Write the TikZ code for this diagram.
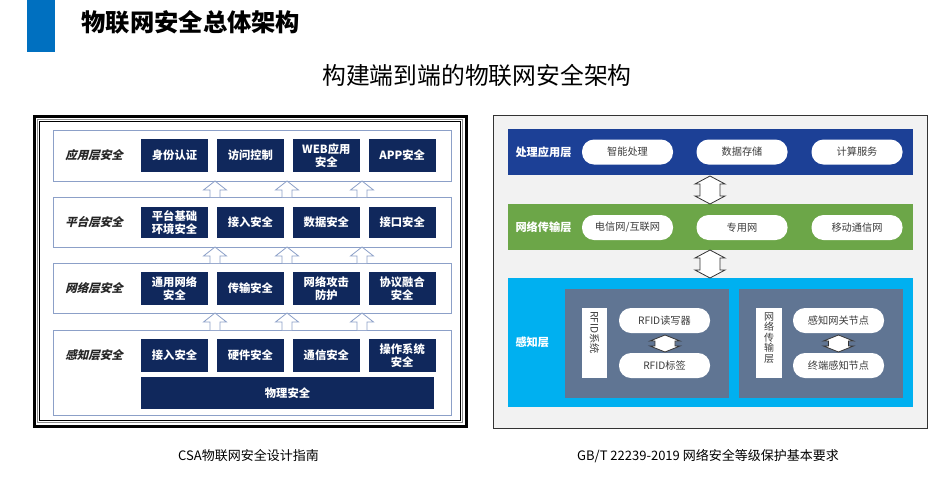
\documentclass[tikz,border=0pt]{standalone}
\usepackage{fontspec}
\setmainfont{Noto Sans CJK SC}
\newfontfamily\slantcjk{Noto Sans CJK SC}[FakeSlant=0.25,BoldFeatures={FakeSlant=0.25}]
\usetikzlibrary{positioning}
\definecolor{barblue}{RGB}{0,112,192}
\definecolor{navy}{RGB}{16,40,92}
\definecolor{laybd}{RGB}{140,160,200}
\definecolor{bandblue}{RGB}{28,64,150}
\definecolor{bandgreen}{RGB}{108,166,72}
\definecolor{bandcyan}{RGB}{0,176,240}
\definecolor{slate}{RGB}{96,117,147}
\definecolor{pilltxt}{RGB}{60,60,60}
\definecolor{panel}{RGB}{242,242,242}

\begin{document}
\begin{tikzpicture}[x=1pt, y=-1pt,
  dbox/.style={fill=navy, text=white, align=center, inner sep=0pt,
    minimum width=67, minimum height=33, font=\fontsize{11.3}{12.5}\selectfont\bfseries},
  layer/.style={draw=laybd, line width=0.8pt, fill=white, minimum width=398, inner sep=0pt},
  lname/.style={font=\slantcjk\fontsize{11.5}{13}\selectfont\bfseries, text=black!85},
  uparr/.style={draw=laybd, line width=0.8pt, fill=white},
  band/.style={minimum width=405, inner sep=0pt},
  bname/.style={anchor=west, text=white, font=\fontsize{11.2}{13}\selectfont\bfseries},
  pill/.style={fill=white, rounded corners=12pt, minimum width=91, minimum height=25,
    inner sep=0pt, text=pilltxt, font=\fontsize{10.2}{12}\selectfont},
  dblarr/.style={draw=black!80, line width=0.8pt, fill=white}]
\useasboundingbox (0,0) rectangle (945,496);

% title
\fill[barblue] (27,0) rectangle (55,52);
\node[anchor=west, font=\fontsize{24.3}{27}\selectfont\bfseries] (ttl) at (78,22) {物联网安全总体架构};
\node[font=\fontsize{23.8}{26}\selectfont] (sub) at (477,75) {构建端到端的物联网安全架构};

% CSA
\draw[line width=3pt] (34,116) rectangle (466,426);
\draw[black!45, line width=1.5pt] (37.5,119.5) rectangle (462.5,422.5);
\draw[line width=1pt, fill=white] (39.5,121.5) rectangle (460.5,420.5);

\node[layer, minimum height=51] (L1) at (252,155.5) {};
\node[layer, minimum height=50] (L2) at (252,222) {};
\node[layer, minimum height=50] (L3) at (252,288) {};
\node[layer, minimum height=85] (L4) at (252,372.5) {};

\foreach \t/\b in {181/197, 247/263, 313/330}
  \foreach \x in {215,287,362}
    \draw[uparr] (\x-5,\b) -- (\x-5,\t+9) -- (\x-11.5,\t+9) -- (\x,\t)
      -- (\x+11.5,\t+9) -- (\x+5,\t+9) -- (\x+5,\b);

\node[lname] (n1) at (94,155.5) {应用层安全};
\node[lname] (n2) at (94,222.5) {平台层安全};
\node[lname] (n3) at (94,288.5) {网络层安全};
\node[lname] (n4) at (94,355.5) {感知层安全};

\node[dbox] (a1) at (174.5,155.5) {身份认证};
\node[dbox, right=8.5pt of a1] (a2) {访问控制};
\node[dbox, right=8.5pt of a2] (a3) {WEB应用\\安全};
\node[dbox, right=8.5pt of a3] (a4) {APP安全};

\node[dbox, minimum height=31] (b1) at (174.5,222.5) {平台基础\\环境安全};
\node[dbox, minimum height=31, right=8.5pt of b1] (b2) {接入安全};
\node[dbox, minimum height=31, right=8.5pt of b2] (b3) {数据安全};
\node[dbox, minimum height=31, right=8.5pt of b3] (b4) {接口安全};

\node[dbox] (c1) at (174.5,288.5) {通用网络\\安全};
\node[dbox, right=8.5pt of c1] (c2) {传输安全};
\node[dbox, right=8.5pt of c2] (c3) {网络攻击\\防护};
\node[dbox, right=8.5pt of c3] (c4) {协议融合\\安全};

\node[dbox] (d1) at (174.5,355.5) {接入安全};
\node[dbox, right=8.5pt of d1] (d2) {硬件安全};
\node[dbox, right=8.5pt of d2] (d3) {通信安全};
\node[dbox, right=8.5pt of d3] (d4) {操作系统\\安全};
\node[dbox, minimum width=293, minimum height=32] (d5) at (287.5,393) {物理安全};

% GB/T
\draw[black!80, line width=1pt, fill=panel] (493,115) rectangle (927,428);

\node[band, fill=bandblue, minimum height=46] (B1) at (710.5,152) {};
\node[band, fill=bandgreen, minimum height=46] (B2) at (710.5,227) {};
\node[band, fill=bandcyan, minimum height=129] (B3) at (710.5,342.5) {};

\node[bname] (m1) at (512,152) {处理应用层};
\node[bname] (m2) at (512,227) {网络传输层};
\node[bname] (m3) at (512,342) {感知层};

\node[pill] (p1) at (627.5,152) {智能处理};
\node[pill] (p2) at (742,152) {数据存储};
\node[pill] (p3) at (857,152) {计算服务};
\node[pill] (q1) at (627.5,227.5) {电信网/互联网};
\node[pill] (q2) at (742,227.5) {专用网};
\node[pill] (q3) at (857,227.5) {移动通信网};

\foreach \t/\b in {176/204, 250/278}
  \draw[dblarr] (710,\t) -- (725,\t+8) -- (720,\t+8) -- (720,\b-8) -- (725,\b-8) -- (710,\b)
    -- (695,\b-8) -- (700,\b-8) -- (700,\t+8) -- (695,\t+8) -- cycle;

\node[fill=slate, minimum width=164, minimum height=109, inner sep=0pt] (s1) at (647,343.5) {};
\node[fill=slate, minimum width=164, minimum height=109, inner sep=0pt] (s2) at (821,343.5) {};
\node[fill=white, minimum width=25, minimum height=70, inner sep=0pt] (w1) at (594.5,343) {};
\node[fill=white, minimum width=26, minimum height=70, inner sep=0pt] (w2) at (769,343) {};
\node[rotate=-90, anchor=west, inner sep=0pt, text=pilltxt, font=\fontsize{10.2}{12}\selectfont] (v1) at (594.5,311) {RFID系统};
\node[anchor=north, align=center, inner sep=0pt, text=pilltxt, font=\fontsize{10}{10.5}\selectfont] (v2) at (769,312) {网\\络\\传\\输\\层};

\node[pill] (r1) at (664.5,320.5) {RFID读写器};
\node[pill] (r2) at (664.5,365.5) {RFID标签};
\node[pill] (t1) at (838.5,320.5) {感知网关节点};
\node[pill] (t2) at (838.5,365.5) {终端感知节点};

\foreach \x in {665,838.5}
  \draw[dblarr] (\x,335) -- (\x+15,341) -- (\x+10,341) -- (\x+10,346) -- (\x+15,346) -- (\x,352)
    -- (\x-15,346) -- (\x-10,346) -- (\x-10,341) -- (\x-15,341) -- cycle;

% captions
\node[font=\fontsize{13}{15}\selectfont] (cap1) at (248.5,456) {CSA物联网安全设计指南};
\node[font=\fontsize{13}{15}\selectfont] (cap2) at (708,456) {GB/T 22239-2019 网络安全等级保护基本要求};
\end{tikzpicture}
\end{document}
